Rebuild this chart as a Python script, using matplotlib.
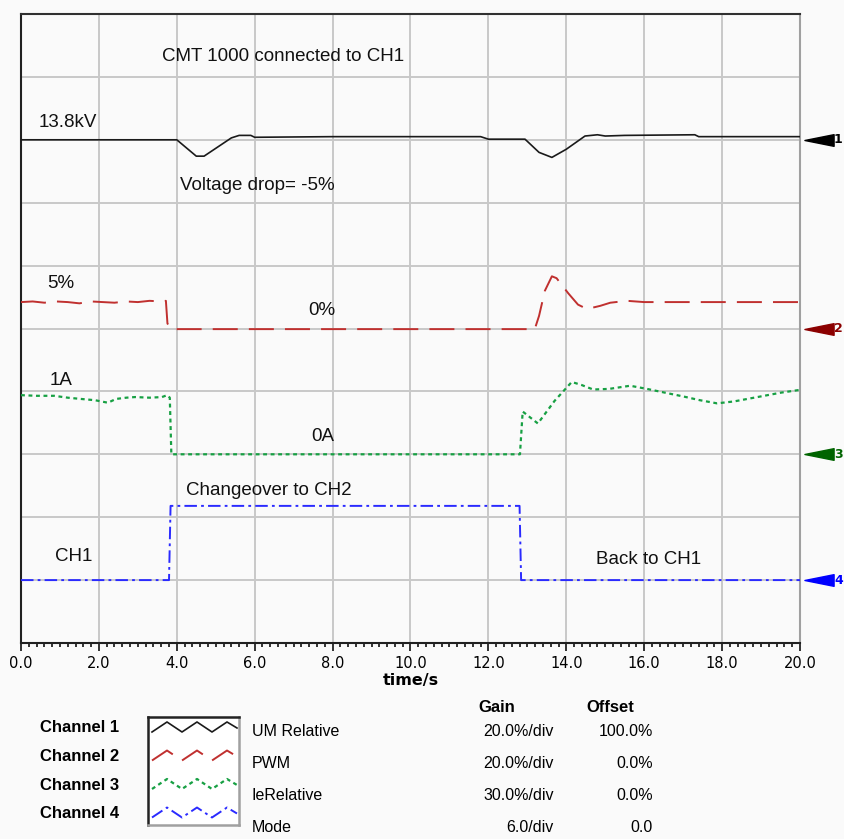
import numpy as np
import matplotlib
matplotlib.use("Agg")
import matplotlib.pyplot as plt
from matplotlib.path import Path
from matplotlib.transforms import blended_transform_factory

plt.rcParams['lines.scale_dashes'] = False

# --- recorded traces (time in s, value in screen divisions incl. channel offset) ---
time_ch1 = [0.0, 4.0, 4.5, 4.7, 5.4, 5.6, 5.9, 6.0, 8.0, 11.8, 12.0, 12.94, 13.3, 13.63,
            14.0, 14.48, 14.8, 15.0, 15.5, 17.3, 17.4, 20.0]
um_relative = [8.0, 8.0, 7.74, 7.74, 8.03, 8.07, 8.07, 8.04, 8.05, 8.05, 8.01, 8.01, 7.8, 7.72,
               7.85, 8.06, 8.08, 8.06, 8.07, 8.08, 8.05, 8.05]

time_ch2 = [0.0, 0.3, 0.6, 0.9, 1.2, 1.5, 1.8, 2.1, 2.4, 2.7, 3.0, 3.3, 3.6, 3.72, 3.76, 3.85,
            13.19, 13.3, 13.45, 13.63, 13.75, 14.05, 14.3, 14.53, 14.87, 15.13, 15.56, 16.0, 20.0]
pwm = [5.42, 5.43, 5.41, 5.43, 5.42, 5.40, 5.43, 5.42, 5.41, 5.43, 5.42, 5.44, 5.43, 5.44, 5.08, 4.99,
       4.99, 5.2, 5.6, 5.83, 5.80, 5.56, 5.38, 5.31, 5.36, 5.41, 5.44, 5.42, 5.42]

time_ch3 = [0.0, 0.4, 0.85, 1.2, 1.54, 1.9, 2.23, 2.44, 2.7, 2.93, 3.3, 3.62, 3.75, 3.82, 3.86,
            12.81, 12.88, 13.27, 13.7, 14.14, 14.4, 14.69, 15.1, 15.64, 16.07, 16.61, 17.0,
            17.43, 17.87, 18.3, 18.82, 19.51, 19.95, 20.0]
ie_relative = [3.94, 3.93, 3.93, 3.90, 3.88, 3.86, 3.82, 3.88, 3.90, 3.91, 3.90, 3.91, 3.94, 3.90, 3.0,
               3.0, 3.68, 3.49, 3.85, 4.15, 4.10, 4.03, 4.04, 4.09, 4.04, 3.97, 3.92,
               3.86, 3.81, 3.84, 3.90, 3.98, 4.02, 4.02]

time_ch4 = [0.0, 3.8, 3.84, 12.8, 12.84, 20.0]
mode = [1.0, 1.0, 2.18, 2.18, 1.0, 1.0]

zero_levels = [8.0, 5.0, 3.0, 1.0]

# --- annotations on the scope screen ---
note_text = ["CMT 1000 connected to CH1", "13.8kV", "Voltage drop= -5%", "5%", "0%",
             "1A", "0A", "Changeover to CH2", "CH1", "Back to CH1"]
note_x = [3.62, 0.44, 4.08, 0.67, 7.37, 0.74, 7.45, 4.24, 0.87, 14.76]
note_y = [9.32, 8.27, 7.27, 5.71, 5.29, 4.18, 3.28, 2.43, 1.37, 1.32]

# --- channel table ---
channels = ["Channel 1", "Channel 2", "Channel 3", "Channel 4"]
signals = ["UM Relative", "PWM", "IeRelative", "Mode"]
gains = ["20.0%/div", "20.0%/div", "30.0%/div", "6.0/div"]
offsets = ["100.0%", "0.0%", "0.0%", "0.0"]

colors = ["#1a1a1a", "#c0302f", "#17a043", "#2a2aff"]
marker_colors = ["#000000", "#8b0000", "#006400", "#0000ff"]
styles = ["-", (0, (18, 8)), (0, (2.8, 2.6)), (0, (9, 3, 2, 3))]
widths = [1.2, 1.4, 1.6, 1.4]

W, H = 845, 839
fig = plt.figure(figsize=(W / 100, H / 100), dpi=100, facecolor="#fafafa")
ax = fig.add_axes([21 / W, 1 - 643 / H, 779 / W, 629 / H])
ax.set_facecolor("#fafafa")
ax.set_xlim(0, 20)
ax.set_ylim(0, 10)

traces = [(time_ch1, um_relative), (time_ch2, pwm), (time_ch3, ie_relative), (time_ch4, mode)]
for (t, v), c, ls, lw in zip(traces, colors, styles, widths):
    ax.plot(t, v, color=c, linestyle=ls, linewidth=lw, zorder=3)

# channel reference arrows on the right edge
arrow = Path([(-1, 0), (1, 0.4), (1, -0.4), (-1, 0)],
             [Path.MOVETO, Path.LINETO, Path.LINETO, Path.CLOSEPOLY])
edge = blended_transform_factory(fig.transFigure, ax.transData)
for i, (lvl, mc) in enumerate(zip(zero_levels, marker_colors)):
    ax.plot([20.5], [lvl], marker=arrow, markersize=21, color=mc, clip_on=False,
            linestyle="none", zorder=5)
    ax.text(834 / W, lvl, str(i + 1), transform=edge, color=mc,
            fontsize=9, fontweight="bold", va="center", ha="left", clip_on=False)

for s, x, y in zip(note_text, note_x, note_y):
    ax.text(x, y, s, fontsize=13.5, family="Liberation Sans", color="#111111",
            ha="left", va="center")

ax.set_xticks(np.arange(0, 20.1, 2))
ax.set_xticks(np.arange(0, 20.01, 0.2), minor=True)
ax.set_xticklabels([f"{v:.1f}" for v in np.arange(0, 20.1, 2)], fontsize=10.5)
ax.set_yticks(range(11))
ax.tick_params(axis="y", length=0, labelleft=False)
ax.tick_params(axis="x", which="major", length=6, width=1.3, color="#222222", pad=3)
ax.tick_params(axis="x", which="minor", length=3, width=1.3, color="#222222")
ax.grid(True, which="major", color="#c8c8c8", linewidth=1.4)
ax.set_axisbelow(True)
ax.set_xlabel("time/s", fontsize=11.5, fontweight="bold", labelpad=2)

ax.spines["left"].set_color("#202020")
ax.spines["top"].set_color("#303030")
ax.spines["bottom"].set_color("#202020")
ax.spines["right"].set_color("#a0a0a0")
for sp in ax.spines.values():
    sp.set_linewidth(1.5)

# --- channel table below the plot ---
fig.text(515 / W, 1 - 708 / H, "Gain", fontsize=12, fontweight="bold",
         family="Liberation Sans", ha="right", va="center")
fig.text(634 / W, 1 - 708 / H, "Offset", fontsize=12, fontweight="bold",
         family="Liberation Sans", ha="right", va="center")
for i in range(4):
    fig.text(40 / W, 1 - (728 + 28.5 * i) / H, channels[i], fontsize=12, fontweight="bold",
             family="Liberation Sans", va="center")
    yy = 1 - (731 + 32 * i) / H
    fig.text(252 / W, yy, signals[i], fontsize=11.5, family="Liberation Sans", va="center")
    fig.text(554 / W, yy, gains[i], fontsize=11.5, family="Liberation Sans",
             ha="right", va="center")
    fig.text(653 / W, yy, offsets[i], fontsize=11.5, family="Liberation Sans",
             ha="right", va="center")

# line-style sample box
lg = fig.add_axes([148 / W, 1 - 825 / H, 91 / W, 108 / H])
lg.set_facecolor("white")
lg.set_xlim(0, 91)
lg.set_ylim(108, 0)
lg.set_xticks([])
lg.set_yticks([])
zig_x = np.array([4, 19, 34, 49, 64, 79, 89])
zig_y = np.array([15, 5, 15, 5, 15, 5, 11])
for i, (c, ls, lw) in enumerate(zip(colors, styles, widths)):
    lg.plot(zig_x, zig_y + 28.5 * i, color=c, linestyle=ls, linewidth=lw)
lg.spines["left"].set_color("#222222")
lg.spines["top"].set_color("#222222")
lg.spines["right"].set_color("#a0a0a0")
lg.spines["bottom"].set_color("#a0a0a0")
for sp in lg.spines.values():
    sp.set_linewidth(1.8)

fig.savefig("out.png", dpi=100, facecolor=fig.get_facecolor())
